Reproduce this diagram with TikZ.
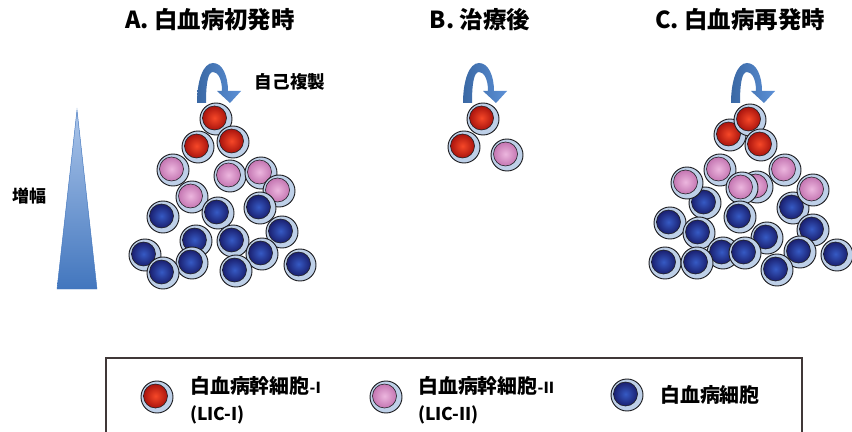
\documentclass[tikz,border=0pt]{standalone}
\usepackage{fontspec}
\setmainfont{Noto Sans CJK JP}
\definecolor{rimblue}{RGB}{190,208,232}
\definecolor{rimline}{RGB}{30,30,34}
\definecolor{arrowdark}{RGB}{58,104,164}
\definecolor{arrowlight}{RGB}{92,144,214}
\definecolor{wedgetop}{RGB}{172,198,234}
\definecolor{wedgebottom}{RGB}{66,118,190}
\definecolor{frameline}{RGB}{64,56,56}
\tikzset{
    lic1/.style={inner color={rgb,255:red,246;green,72;blue,40}, outer color={rgb,255:red,170;green,20;blue,14}},
    lic2/.style={inner color={rgb,255:red,236;green,182;blue,222}, outer color={rgb,255:red,196;green,118;blue,178}},
    blast/.style={inner color={rgb,255:red,54;green,90;blue,196}, outer color={rgb,255:red,26;green,32;blue,112}},
    pics/cell/.style={code={
        \fill[rimblue] (0,0) circle (16);
        \draw[rimline, line width=0.8pt] (0,0) circle (16);
        \shade[#1] (-1.5,1) circle (12);
        \draw[rimline, line width=0.5pt] (-1.5,1) circle (12);
    }},
    pics/selfcopy/.style={code={
        \shade[left color=arrowdark, right color=arrowlight]
            (0,0) .. controls (0,22) and (6,40) .. (16,40)
            .. controls (26,40) and (31,26) .. (31,12) -- (44,12) -- (33,0) -- (20,12) -- (25,12)
            .. controls (25,24) and (21,31) .. (16,31)
            .. controls (11,31) and (9,20) .. (9,0) -- cycle;
    }},
    every node/.style={font=\bfseries, inner sep=0pt}
}
\begin{document}
\begin{tikzpicture}[x=0.03cm, y=0.03cm]
    \useasboundingbox (0,0) rectangle (852,-432);
    \clip (0,0) rectangle (852,-432);
    % titles
    \node (titleA) at (210,-20) {\fontsize{20}{24}\selectfont A. 白血病初発時};
    \node (titleB) at (480,-20) {\fontsize{20}{24}\selectfont B. 治療後};
    \node (titleC) at (740,-20) {\fontsize{20}{24}\selectfont C. 白血病再発時};
    % growth wedge
    \shadedraw[top color=wedgetop, bottom color=wedgebottom, draw=wedgebottom, line width=0.4pt]
        (57,-289) -- (77,-110) -- (97,-289) -- cycle;
    \node (grow) at (29,-196) {\fontsize{14.5}{17}\selectfont 増幅};
    % self-renewal arrows
    \pic at (197,-103) {selfcopy};
    \pic at (463,-103) {selfcopy};
    \pic at (731,-103) {selfcopy};
    \node (renew) at (290,-82) {\fontsize{15}{18}\selectfont 自己複製};
    % A: onset
    \pic at (216,-119) {cell=lic1};
    \pic at (198,-147) {cell=lic1};
    \pic at (233,-142) {cell=lic1};
    \pic at (173,-170) {cell=lic2};
    \pic at (230,-176) {cell=lic2};
    \pic at (261,-173) {cell=lic2};
    \pic at (192,-197) {cell=lic2};
    \pic at (279,-191) {cell=lic2};
    \pic at (163,-217) {cell=blast};
    \pic at (218,-213) {cell=blast};
    \pic at (260,-208) {cell=blast};
    \pic at (282,-232) {cell=blast};
    \pic at (196,-241) {cell=blast};
    \pic at (233,-241) {cell=blast};
    \pic at (145,-255) {cell=blast};
    \pic at (262,-254) {cell=blast};
    \pic at (192,-263) {cell=blast};
    \pic at (163,-273) {cell=blast};
    \pic at (236,-271) {cell=blast};
    \pic at (300,-265) {cell=blast};
    % B: after therapy
    \pic at (483,-119) {cell=lic1};
    \pic at (464,-147) {cell=lic1};
    \pic at (507,-155) {cell=lic2};
    % C: relapse
    \pic at (730,-135) {cell=lic1};
    \pic at (750,-120) {cell=lic1};
    \pic at (761,-145) {cell=lic1};
    \pic at (720,-170) {cell=lic2};
    \pic at (785,-170) {cell=lic2};
    \pic at (705,-203) {cell=blast};
    \pic at (687,-183) {cell=lic2};
    \pic at (757,-187) {cell=lic2};
    \pic at (742,-188) {cell=lic2};
    \pic at (793,-208) {cell=blast};
    \pic at (813,-190) {cell=lic2};
    \pic at (740,-217) {cell=blast};
    \pic at (670,-223) {cell=blast};
    \pic at (699,-233) {cell=blast};
    \pic at (813,-230) {cell=blast};
    \pic at (767,-238) {cell=blast};
    \pic at (723,-253) {cell=blast};
    \pic at (745,-253) {cell=blast};
    \pic at (800,-252) {cell=blast};
    \pic at (837,-255) {cell=blast};
    \pic at (665,-263) {cell=blast};
    \pic at (697,-263) {cell=blast};
    \pic at (777,-270) {cell=blast};
    % legend
    \draw[frameline, line width=1pt] (106,-358) rectangle (802,-450);
    \pic at (157,-397) {cell=lic1};
    \pic at (386,-397) {cell=lic2};
    \pic at (627,-395) {cell=blast};
    \node[anchor=west] (keyA) at (190,-386) {\fontsize{17}{20}\selectfont 白血病幹細胞{\fontsize{13}{16}\selectfont -I}};
    \node[anchor=west] (keyAlic) at (190,-415) {\fontsize{15}{18}\selectfont (LIC-I)};
    \node[anchor=west] (keyB) at (418,-386) {\fontsize{17}{20}\selectfont 白血病幹細胞{\fontsize{13}{16}\selectfont -II}};
    \node[anchor=west] (keyBlic) at (418,-415) {\fontsize{15}{18}\selectfont (LIC-II)};
    \node[anchor=west] (keyC) at (660,-395) {\fontsize{17}{20}\selectfont 白血病細胞};
\end{tikzpicture}
\end{document}
